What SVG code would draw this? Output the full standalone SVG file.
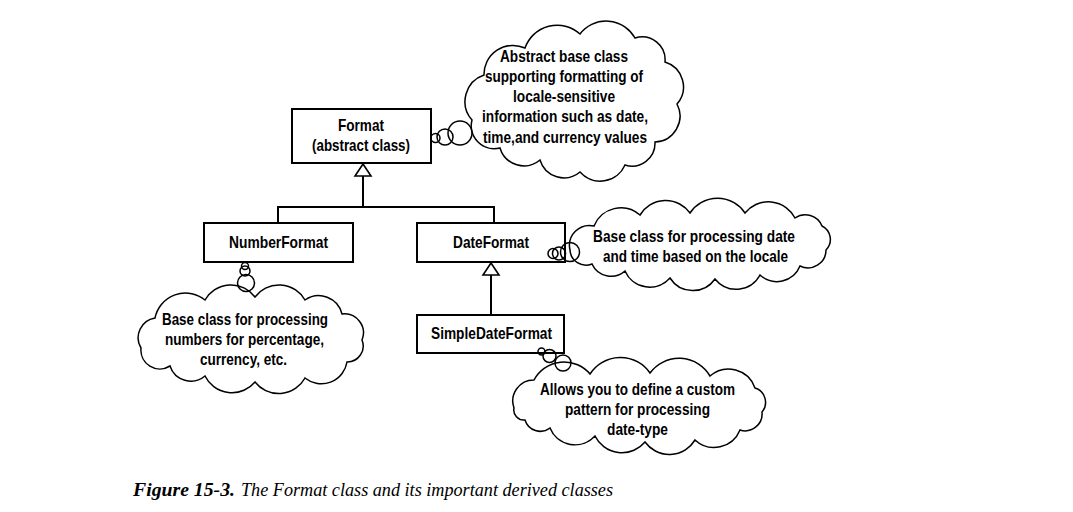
<svg xmlns="http://www.w3.org/2000/svg" width="1073" height="512" viewBox="0 0 1073 512">
<style>
.box{fill:#fff;stroke:#000;stroke-width:2}
.cloud{fill:none;stroke:#000;stroke-width:1.5}
.bub{fill:none;stroke:#000;stroke-width:1.5}
.ln{fill:none;stroke:#000;stroke-width:2}
.tri{fill:#fff;stroke:#000;stroke-width:1.6}
.t{font-family:"Liberation Sans Narrow","Liberation Sans",Arial,sans-serif;font-weight:bold;font-size:17px;fill:#000;text-anchor:middle}
.cap{font-family:"Liberation Serif","Times New Roman",serif;font-size:18px;fill:#000;font-style:italic}
</style>
<rect width="1073" height="512" fill="#fff"/>
<g id="connectors">
<line class="ln" x1="363" y1="176" x2="363" y2="207"/>
<polyline class="ln" points="278,223 278,207 494,207 494,223"/>
<polygon class="tri" points="363,164 355,176 371,176"/>
<line class="ln" x1="491" y1="275" x2="491" y2="315"/>
<polygon class="tri" points="491,263 483,275 499,275"/>
</g>
<g id="format">
<rect class="box" x="292" y="109" width="139" height="54"/>
<text class="t" x="361" y="131" textLength="46" lengthAdjust="spacingAndGlyphs">Format</text>
<text class="t" x="361" y="151" textLength="98" lengthAdjust="spacingAndGlyphs">(abstract class)</text>
</g>
<g id="numberformat">
<rect class="box" x="204" y="223" width="149" height="39"/>
<text class="t" x="278.5" y="248" textLength="99" lengthAdjust="spacingAndGlyphs">NumberFormat</text>
</g>
<g id="dateformat">
<rect class="box" x="417" y="223" width="148" height="39"/>
<text class="t" x="491" y="248" textLength="76" lengthAdjust="spacingAndGlyphs">DateFormat</text>
</g>
<g id="simpledateformat">
<rect class="box" x="417" y="315" width="147" height="38"/>
<text class="t" x="491.5" y="339" textLength="121" lengthAdjust="spacingAndGlyphs">SimpleDateFormat</text>
</g>
<g id="note-format">
<circle class="bub" cx="435.5" cy="138" r="4.5"/>
<circle class="bub" cx="445" cy="137" r="8"/>
<circle class="bub" cx="460" cy="133" r="12"/>
<path class="cloud" d="M472,120 A28,28 0 0 1 484,75 A29,29 0 0 1 525,48 A34,34 0 0 1 580,34 A33,33 0 0 1 635,38 A23,23 0 0 1 665,62 A26,26 0 0 1 677,104 A26,26 0 0 1 655,142 A23,23 0 0 1 625,165 A27,27 0 0 1 580,172 A25,25 0 0 1 540,160 A25,25 0 0 1 500,148 A23,23 0 0 1 472,120 Z"/>
<text class="t" x="564" y="62" textLength="128" lengthAdjust="spacingAndGlyphs">Abstract base class</text>
<text class="t" x="564" y="82" textLength="158" lengthAdjust="spacingAndGlyphs">supporting formatting of</text>
<text class="t" x="564" y="102" textLength="102" lengthAdjust="spacingAndGlyphs">locale-sensitive</text>
<text class="t" x="565" y="122" textLength="166" lengthAdjust="spacingAndGlyphs">information such as date,</text>
<text class="t" x="565" y="143" textLength="164" lengthAdjust="spacingAndGlyphs">time,and currency values</text>
</g>
<g id="note-dateformat">
<circle class="bub" cx="553" cy="253.5" r="5"/>
<circle class="bub" cx="559" cy="253.5" r="6.5"/>
<circle class="bub" cx="570" cy="252" r="9.5"/>
<path class="cloud" d="M570,250 A20,20 0 0 1 594,226 A29,29 0 0 1 640,215 A30,30 0 0 1 690,213 A33,33 0 0 1 745,213 A30,30 0 0 1 795,218 A18,18 0 0 1 822,226 A15,15 0 0 1 826,250 A18,18 0 0 1 800,266 A25,25 0 0 1 760,275 A27,27 0 0 1 715,279 A27,27 0 0 1 670,278 A27,27 0 0 1 625,271 A21,21 0 0 1 592,264 A16,16 0 0 1 570,250 Z"/>
<text class="t" x="694" y="242" textLength="202" lengthAdjust="spacingAndGlyphs">Base class for processing date</text>
<text class="t" x="695.5" y="262" textLength="185" lengthAdjust="spacingAndGlyphs">and time based on the locale</text>
</g>
<g id="note-numberformat">
<circle class="bub" cx="245" cy="266" r="3.5"/>
<circle class="bub" cx="245" cy="271" r="5"/>
<circle class="bub" cx="246" cy="283" r="8.5"/>
<path class="cloud" d="M141,348 A20,20 0 0 1 155,318 A31,31 0 0 1 205,300 A30,30 0 0 1 255,297 A30,30 0 0 1 305,300 A24,24 0 0 1 342,314 A19,19 0 0 1 362,340 A16,16 0 0 1 347,362 A26,26 0 0 1 305,378 A30,30 0 0 1 255,382 A30,30 0 0 1 205,376 A22,22 0 0 1 170,366 A19,19 0 0 1 141,348 Z"/>
<text class="t" x="245" y="325" textLength="166" lengthAdjust="spacingAndGlyphs">Base class for processing</text>
<text class="t" x="244.5" y="345" textLength="159" lengthAdjust="spacingAndGlyphs">numbers for percentage,</text>
<text class="t" x="243.5" y="365" textLength="87" lengthAdjust="spacingAndGlyphs">currency, etc.</text>
</g>
<g id="note-simpledateformat">
<circle class="bub" cx="541.5" cy="351.5" r="3.5"/>
<circle class="bub" cx="549.5" cy="356" r="6.5"/>
<circle class="bub" cx="563" cy="363" r="8"/>
<path class="cloud" d="M514,408 A21,21 0 0 1 534,380 A34,34 0 0 1 590,374 A36,36 0 0 1 650,373 A36,36 0 0 1 710,376 A28,28 0 0 1 755,388 A15,15 0 0 1 762,412 A17,17 0 0 1 740,430 A28,28 0 0 1 695,440 A30,30 0 0 1 645,442 A30,30 0 0 1 595,436 A27,27 0 0 1 550,428 A16,16 0 0 1 525,420 A10,10 0 0 1 514,408 Z"/>
<text class="t" x="637.5" y="395" textLength="195" lengthAdjust="spacingAndGlyphs">Allows you to define a custom</text>
<text class="t" x="637.5" y="415" textLength="145" lengthAdjust="spacingAndGlyphs">pattern for processing</text>
<text class="t" x="637.5" y="435" textLength="61" lengthAdjust="spacingAndGlyphs">date-type</text>
</g>
<g id="caption">
<text class="cap" x="133" y="496" font-weight="bold" textLength="102" lengthAdjust="spacingAndGlyphs">Figure 15-3.</text>
<text class="cap" x="241" y="496" textLength="372" lengthAdjust="spacingAndGlyphs">The Format class and its important derived classes</text>
</g>
</svg>
